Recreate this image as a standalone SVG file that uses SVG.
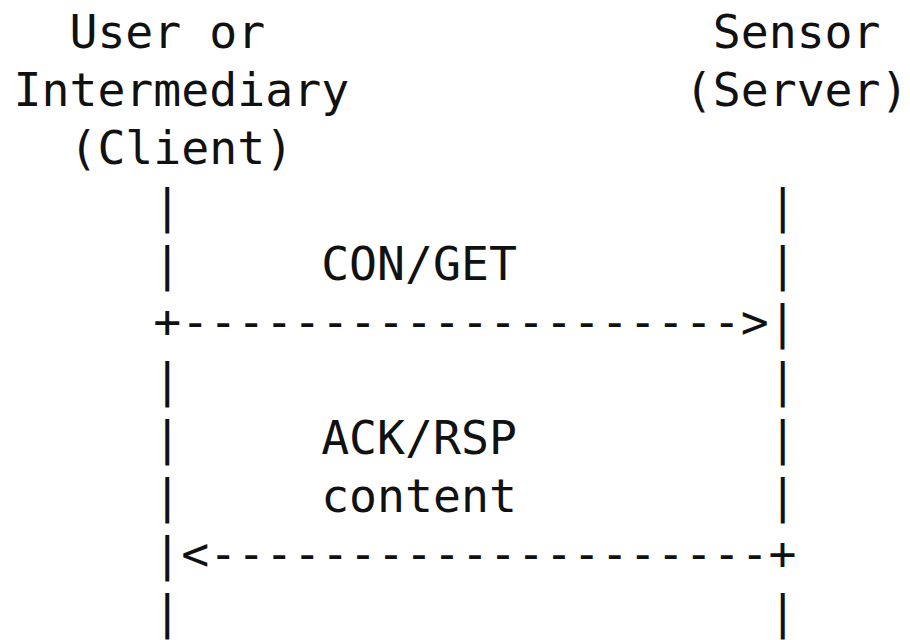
<svg xmlns="http://www.w3.org/2000/svg" width="910" height="640" viewBox="0 0 910 640">
  <style>
    text { font-family: "DejaVu Sans Mono", "Liberation Mono", monospace; font-size: 46.46px; fill: #111111; }
  </style>
  <rect width="910" height="640" fill="#ffffff"/>

  <!-- character grid: column pitch 27.97px from x=13.5, row pitch 58px from baseline 48 -->

  <!-- client participant heading -->
  <g id="client">
    <text x="69.44" y="48">User or</text>
    <text x="13.5" y="106">Intermediary</text>
    <text x="69.44" y="164">(Client)</text>
  </g>

  <!-- server participant heading -->
  <g id="server">
    <text x="712.75" y="48">Sensor</text>
    <text x="684.78" y="106">(Server)</text>
  </g>

  <!-- lifelines and message arrows, drawn as character art -->
  <g id="connectors">
    <g id="client-lifeline">
      <text x="153.35" y="222">|</text>
      <text x="153.35" y="280">|</text>
      <text x="153.35" y="396">|</text>
      <text x="153.35" y="454">|</text>
      <text x="153.35" y="512">|</text>
      <text x="153.35" y="628">|</text>
    </g>
    <g id="server-lifeline">
      <text x="768.69" y="222">|</text>
      <text x="768.69" y="280">|</text>
      <text x="768.69" y="396">|</text>
      <text x="768.69" y="454">|</text>
      <text x="768.69" y="512">|</text>
      <text x="768.69" y="628">|</text>
    </g>
    <text id="request-arrow" x="153.35" y="338">+--------------------&gt;|</text>
    <text id="response-arrow" x="153.35" y="570">|&lt;--------------------+</text>
  </g>

  <!-- message labels -->
  <g id="labels">
    <text x="321.17" y="280">CON/GET</text>
    <text x="321.17" y="454">ACK/RSP</text>
    <text x="321.17" y="512">content</text>
  </g>
</svg>
